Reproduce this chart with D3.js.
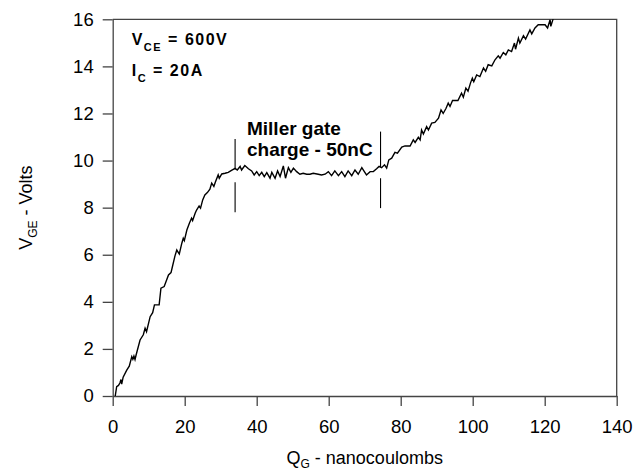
<!DOCTYPE html>
<html>
<head>
<meta charset="utf-8">
<script src="https://cdn.jsdelivr.net/npm/d3@7"></script>
<style>
  body { margin: 0; background: #fff; }
  text { font-family: "Liberation Sans", Arial, sans-serif; }
</style>
</head>
<body>
<script>
// gate charge curve
var qG = [
  0.7, 1.1, 1.6, 2.0, 2.3, 2.5, 2.9, 3.9, 4.6, 5.3, 5.6, 5.9, 6.2, 6.5, 7.6, 8.5, 9.0, 9.4,
  10.4, 11.1, 11.6, 12.9, 13.4, 14.3, 15.5, 16.2, 16.6, 17.3, 17.8, 18.5, 19.2, 19.6, 19.9,
  20.6, 21.3, 21.9, 22.2, 22.9, 23.3, 24.0, 24.4, 25.0, 25.6, 26.3, 27.0, 27.5, 28.1, 28.5,
  29.3, 29.6, 30.3, 31.2, 32.1, 33.0, 34.0, 34.6, 35.4, 35.8, 36.7, 37.7, 38.6, 39.3, 40.0,
  40.7, 41.4, 42.1, 42.8, 43.7, 44.2, 45.1, 45.8, 46.5, 47.4, 48.0, 48.8, 49.5, 50.2, 51.1,
  52.0, 52.9, 53.9, 54.8, 55.7, 57.1, 58.0, 59.0, 59.9, 60.8, 61.7, 62.7, 63.6, 64.5, 65.4,
  66.4, 67.3, 68.2, 69.2, 69.9, 70.5, 71.5, 72.4, 73.3, 74.0, 74.7, 75.5, 76.1, 76.7, 77.5,
  78.4, 79.1, 80.3, 81.2, 82.6, 83.5, 84.0, 84.9, 85.4, 85.8, 86.3, 87.2, 87.7, 88.6, 89.5,
  90.5, 91.2, 91.8, 92.6, 93.2, 93.7, 94.4, 95.9, 96.9, 97.4, 98.1, 98.7, 99.4, 99.9, 100.3,
  101.1, 102.0, 103.0, 103.6, 104.3, 105.3, 106.2, 107.1, 107.6, 108.5, 109.2, 109.9, 110.8,
  111.6, 111.9, 112.7, 113.1, 114.1, 114.7, 115.9, 116.4, 117.3, 118.2, 120.1, 120.8, 121.5,
  121.7, 122.4
];
var vGE = [
  0, 0.4, 0.45, 0.55, 0.7, 0.5, 0.8, 1.1, 1.27, 1.67, 1.56, 1.7, 1.55, 1.74, 2.38, 2.6, 2.88, 2.73,
  3.37, 3.54, 3.87, 3.87, 4.58, 4.65, 5.14, 5.24, 5.5, 5.95, 6.2, 6.03, 6.49, 6.7, 6.6,
  7.05, 7.34, 7.55, 7.45, 7.76, 7.9, 8.07, 7.98, 8.33, 8.54, 8.64, 8.78, 9.04, 8.9, 9.08,
  9.39, 9.25, 9.43, 9.46, 9.5, 9.58, 9.67, 9.6, 9.75, 9.6, 9.79, 9.65, 9.56, 9.39, 9.53,
  9.36, 9.5, 9.32, 9.49, 9.25, 9.5, 9.25, 9.56, 9.32, 9.77, 9.25, 9.7, 9.5, 9.68, 9.53,
  9.42, 9.46, 9.42, 9.42, 9.46, 9.42, 9.39, 9.42, 9.53, 9.36, 9.56, 9.36, 9.53, 9.32, 9.56,
  9.36, 9.6, 9.42, 9.7, 9.53, 9.39, 9.53, 9.53, 9.65, 9.75, 9.7, 9.82, 9.68, 10.03, 10.1,
  10.35, 10.31, 10.57, 10.62, 10.62, 10.88, 10.77, 10.99, 10.88, 11.3, 11.13, 11.44, 11.3, 11.59, 11.62,
  11.8, 12.15, 12.0, 12.22, 12.44, 12.3, 12.55, 12.55, 12.86, 12.69, 13.08, 12.95, 13.3, 13.5, 13.35,
  13.64, 13.57, 13.93, 13.79, 14.07, 14.02, 14.28, 14.45, 14.35, 14.59, 14.49, 14.7, 14.63,
  14.99, 14.73, 15.2, 14.99, 15.3, 15.16, 15.55, 15.38, 15.63, 15.77, 15.77, 15.63, 15.98,
  15.7, 16.05
];

// miller plateau markers: [q, vTop, vBottom]
var markers = [
  [34.0, 10.92, 9.62], [34.0, 9.08, 7.8],
  [74.4, 11.23, 9.72], [74.4, 9.25, 7.98]
];

var xTicks = [0, 20, 40, 60, 80, 100, 120, 140];
var yTicks = [0, 2, 4, 6, 8, 10, 12, 14, 16];

var width = 640, height = 473;
var margin = { top: 19.3, right: 23.3, bottom: 77, left: 112.7 };
var w = width - margin.left - margin.right;
var h = height - margin.top - margin.bottom;
var lineCol = '#444';

var svg = d3.select('body')
  .append('svg')
    .attr('width', width)
    .attr('height', height);

var g = svg.append('g')
  .attr('transform', 'translate(' + margin.left + ',' + margin.top + ')');

var x = d3.scaleLinear().domain([0, 140]).range([0, w]);
var y = d3.scaleLinear().domain([0, 16]).range([h, 0]);

// axes
var xAxis = g.append('g')
  .attr('transform', 'translate(0,' + h + ')')
  .call(d3.axisBottom(x).tickValues(xTicks).tickSize(10).tickSizeOuter(0).tickPadding(14));
var yAxis = g.append('g')
  .call(d3.axisLeft(y).tickValues(yTicks).tickSize(10).tickSizeOuter(0).tickPadding(9));

[xAxis, yAxis].forEach(function(a) {
  a.selectAll('path, line').attr('stroke', lineCol).attr('stroke-width', 1.3);
  a.selectAll('text').attr('fill', '#000').style('font-size', '18.5px')
    .style('font-family', '"Liberation Sans", Arial, sans-serif');
});

// top and right frame
g.append('path')
  .attr('d', 'M0,0H' + w + 'V' + h)
  .attr('fill', 'none')
  .attr('stroke', lineCol)
  .attr('stroke-width', 1.3);

g.append('clipPath').attr('id', 'clip')
  .append('rect').attr('width', w).attr('height', h);

var line = d3.line()
  .x(function(d) { return x(d[0]); })
  .y(function(d) { return y(d[1]); });

g.append('path')
  .datum(d3.zip(qG, vGE))
  .attr('clip-path', 'url(#clip)')
  .attr('d', line)
  .attr('fill', 'none')
  .attr('stroke', '#000')
  .attr('stroke-width', 1.4);

g.selectAll('.marker')
  .data(markers)
  .enter().append('line')
    .attr('class', 'marker')
    .attr('x1', function(d) { return x(d[0]); })
    .attr('x2', function(d) { return x(d[0]); })
    .attr('y1', function(d) { return y(d[1]); })
    .attr('y2', function(d) { return y(d[2]); })
    .attr('stroke', '#000')
    .attr('stroke-width', 1.1);

// annotations
var cond = g.append('g').style('font-weight', 'bold').style('font-size', '16px')
  .style('letter-spacing', '1.5px');
var t1 = cond.append('text').attr('x', 19).attr('y', 45 - margin.top);
t1.append('tspan').text('V');
t1.append('tspan').attr('dy', 6).style('font-size', '11px').text('CE');
t1.append('tspan').attr('dy', -6).text(' = 600V');
var t2 = cond.append('text').attr('x', 19).attr('y', 76 - margin.top);
t2.append('tspan').text('I');
t2.append('tspan').attr('dy', 6).style('font-size', '11px').text('C');
t2.append('tspan').attr('dy', -6).text(' = 20A');

var miller = g.append('text')
  .style('font-weight', 'bold').style('font-size', '19px')
  .attr('x', x(37.3));
miller.append('tspan').attr('y', 135 - margin.top).text('Miller gate');
miller.append('tspan').attr('x', x(37.3)).attr('y', 156 - margin.top).text('charge - 50nC');

// axis titles
var xt = svg.append('text')
  .attr('x', margin.left + w / 2).attr('y', 464)
  .attr('text-anchor', 'middle').style('font-size', '18px');
xt.append('tspan').text('Q');
xt.append('tspan').attr('dy', 4).style('font-size', '12px').text('G');
xt.append('tspan').attr('dy', -4).text(' - nanocoulombs');

var yt = svg.append('text')
  .attr('transform', 'translate(32,' + (margin.top + h / 2) + ') rotate(-90)')
  .attr('text-anchor', 'middle').style('font-size', '18px');
yt.append('tspan').text('V');
yt.append('tspan').attr('dy', 5).style('font-size', '12px').text('GE');
yt.append('tspan').attr('dy', -5).text(' - Volts');
</script>
</body>
</html>
